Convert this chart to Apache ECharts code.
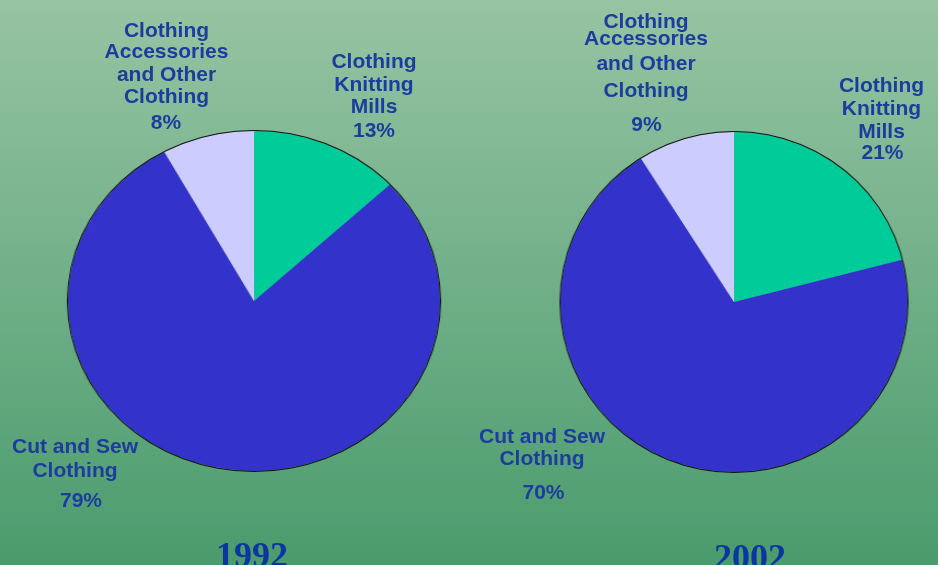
<!DOCTYPE html>
<html>
<head>
<meta charset="utf-8">
<script src="https://cdn.jsdelivr.net/npm/echarts@6/dist/echarts.min.js"></script>
<style>
  html, body { margin: 0; padding: 0; overflow: hidden; }
  #wrap { position: relative; width: 938px; height: 565px; }
  #bg { position: absolute; left: 0; top: 0; width: 938px; height: 565px; }
  .pie { position: absolute; }
</style>
</head>
<body>
<div id="wrap">
  <div id="bg"></div>
  <div id="pie1" class="pie"></div>
  <div id="pie2" class="pie"></div>
</div>
<script>
// data
var categories = ['Clothing\nKnitting\nMills', 'Cut and Sew\nClothing', 'Clothing\nAccessories\nand Other\nClothing']
var values1992 = [13, 79, 8]
var values2002 = [21, 70, 9]
var years = ['1992', '2002']

var colors = ['#00cc99', '#3333cc', '#ccccff']
var textColor = '#1c3d9e'

// pie geometry: center + x/y radius (the originals are slightly squashed ellipses)
var pieBoxes = [
  { cx: 254, cy: 301, rx: 186, ry: 170 },
  { cx: 733.5, cy: 302, rx: 173.5, ry: 170 }
]

// label placement per category: name line x / y, percent x / y
var labelPos = [
  [
    { x: 374, ys: [62, 85, 107.5], px: 374, py: 131.5 },
    { x: 75, ys: [447.5, 471.5], px: 81, py: 501.5 },
    { x: 166.5, ys: [31.5, 52.5, 75.5, 97.5], px: 166, py: 123.5 }
  ],
  [
    { x: 881.5, ys: [86, 109, 132], px: 882.5, py: 153 },
    { x: 542, ys: [437.5, 459.5], px: 543.5, py: 493.5 },
    { x: 646, ys: [22, 39.5, 64.5, 91.5], px: 646.5, py: 125 }
  ]
]
var yearPos = [{ x: 252, y: 558 }, { x: 750, y: 560 }]

var allValues = [values1992, values2002]

function buildTexts() {
  var els = []
  allValues.forEach(function (vals, p) {
    categories.forEach(function (name, i) {
      var pos = labelPos[p][i]
      name.split('\n').forEach(function (line, k) {
        els.push({
          type: 'text', x: pos.x, y: pos.ys[k], silent: true,
          style: { text: line, fill: textColor, font: 'bold 21px "Liberation Sans", Arial, sans-serif', align: 'center', verticalAlign: 'middle' }
        })
      })
      els.push({
        type: 'text', x: pos.px, y: pos.py, silent: true,
        style: { text: vals[i] + '%', fill: textColor, font: 'bold 21px "Liberation Sans", Arial, sans-serif', align: 'center', verticalAlign: 'middle' }
      })
    })
    els.push({
      type: 'text', x: yearPos[p].x, y: yearPos[p].y, silent: true,
      style: { text: years[p], fill: '#0b36a0', font: 'bold 36px "Liberation Serif", "Times New Roman", serif', align: 'center', verticalAlign: 'middle' }
    })
  })
  return els
}

var bg = echarts.init(document.getElementById('bg'), null, { renderer: 'canvas' })
bg.setOption({
  backgroundColor: {
    type: 'linear', x: 0, y: 0, x2: 0, y2: 1,
    colorStops: [
      { offset: 0, color: '#97c4a3' },
      { offset: 1, color: '#4a9b6d' }
    ]
  },
  animation: false,
  graphic: buildTexts()
})

function makePie(id, box, vals) {
  var el = document.getElementById(id)
  var size = box.ry * 2 + 6
  el.style.width = size + 'px'
  el.style.height = size + 'px'
  el.style.left = (box.cx - size / 2) + 'px'
  el.style.top = (box.cy - size / 2) + 'px'
  el.style.transform = 'scaleX(' + (box.rx / box.ry) + ')'
  var chart = echarts.init(el)
  chart.setOption({
    animation: false,
    series: [{
      type: 'pie',
      radius: box.ry,
      center: ['50%', '50%'],
      startAngle: 90,
      clockwise: true,
      label: { show: false },
      labelLine: { show: false },
      emphasis: { disabled: true },
      itemStyle: { borderWidth: 0 },
      data: categories.map(function (c, i) {
        return { name: c, value: vals[i], itemStyle: { color: colors[i] } }
      })
    }, {
      // thin black outline round the whole pie
      type: 'pie',
      radius: [box.ry, box.ry + 1],
      center: ['50%', '50%'],
      silent: true,
      label: { show: false },
      labelLine: { show: false },
      itemStyle: { color: '#111' },
      data: [{ name: 'outline', value: 1 }]
    }]
  })
}

makePie('pie1', pieBoxes[0], values1992)
makePie('pie2', pieBoxes[1], values2002)
</script>
</body>
</html>
